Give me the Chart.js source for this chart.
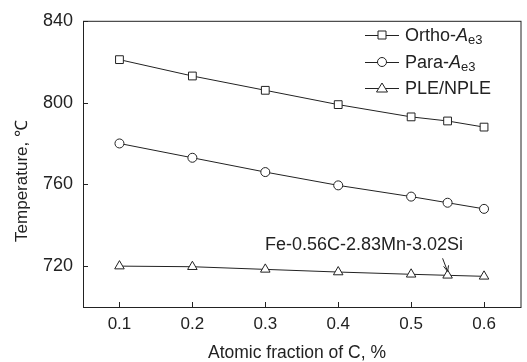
<!DOCTYPE html>
<html>
<head>
<meta charset="utf-8">
<script src="https://cdn.jsdelivr.net/npm/chart.js@4/dist/chart.umd.min.js"></script>
<style>
html,body{margin:0;padding:0;background:#fff;}
#wrap{width:527px;height:362px;position:relative;}
</style>
</head>
<body>
<div id="wrap"><canvas id="c" width="527" height="362"></canvas></div>
<script>
const carbonFraction = [0.1, 0.2, 0.3, 0.4, 0.5, 0.55, 0.6];
const orthoAe3 = [821, 813, 806, 799, 793, 791, 788];
const paraAe3 = [780, 773, 766, 759.5, 754, 751, 748];
const pleNple = [720, 719.7, 718.4, 717.1, 716, 715.5, 715];
const xTicks = [0.1, 0.2, 0.3, 0.4, 0.5, 0.6];
const yTicks = [720, 760, 800, 840];
const seriesNames = ['Ortho-', 'Para-', 'PLE/NPLE'];
const annotationText = 'Fe-0.56C-2.83Mn-3.02Si';
const annotationX = 0.55;

const FONT = '"Liberation Sans", Arial, sans-serif';
const INK = '#222';

function pts(arr){ return carbonFraction.map((x,i)=>({x:x,y:arr[i]})); }

function drawMarker(ctx, style, x, y){
  ctx.save();
  ctx.fillStyle = '#fff';
  ctx.strokeStyle = INK;
  ctx.lineWidth = 1;
  ctx.beginPath();
  if(style==='rect'){
    ctx.rect(x-4, y-4, 8, 8);
  } else if(style==='circle'){
    ctx.arc(x, y, 4.5, 0, Math.PI*2);
  } else {
    ctx.moveTo(x, y-5);
    ctx.lineTo(x+5.5, y+4);
    ctx.lineTo(x-5.5, y+4);
    ctx.closePath();
  }
  ctx.fill();
  ctx.stroke();
  ctx.restore();
}

const decor = {
  id:'decor',
  afterDraw(chart){
    const ctx = chart.ctx;
    const a = chart.chartArea;
    const xs = chart.scales.x, ys = chart.scales.y;
    ctx.save();
    ctx.strokeStyle = INK;
    ctx.lineWidth = 1;
    ctx.strokeRect(a.left+0.5, a.top+0.5, a.right-a.left, a.bottom-a.top);
    ctx.beginPath();
    xTicks.forEach(v=>{
      const px = Math.round(xs.getPixelForValue(v))+0.5;
      ctx.moveTo(px, a.bottom); ctx.lineTo(px, a.bottom-5);
    });
    yTicks.forEach(v=>{
      const py = Math.round(ys.getPixelForValue(v))+0.5;
      ctx.moveTo(a.left, py); ctx.lineTo(a.left+5, py);
    });
    ctx.stroke();

    ctx.fillStyle = INK;
    ctx.font = '17.5px ' + FONT;
    ctx.textAlign = 'center';
    ctx.textBaseline = 'middle';
    ctx.fillText('Atomic fraction of C, %', 297, 353);
    ctx.save();
    ctx.translate(22, 181);
    ctx.rotate(-Math.PI/2);
    ctx.font = '17px ' + FONT;
    ctx.fillText('Temperature, \u2103', 0, 0);
    ctx.restore();

    ctx.font = '18px ' + FONT;
    ctx.textAlign = 'center';
    ctx.fillText(annotationText, 364, 245);
    const ax = xs.getPixelForValue(annotationX);
    const ay = ys.getPixelForValue(pleNple[5]);
    ctx.beginPath();
    ctx.moveTo(ax-5, ay-17);
    ctx.lineTo(ax, ay-4);
    ctx.stroke();
    ctx.beginPath();
    ctx.moveTo(ax-4, ay-9); ctx.lineTo(ax, ay-4); ctx.lineTo(ax+1, ay-10);
    ctx.stroke();

    const rows = [35, 62, 88];
    const styles = ['rect','circle','triangle'];
    rows.forEach((ry, i)=>{
      ctx.beginPath();
      ctx.moveTo(365, ry+0.5); ctx.lineTo(399, ry+0.5);
      ctx.stroke();
      drawMarker(ctx, styles[i], 382, ry);
      ctx.textAlign = 'left';
      ctx.textBaseline = 'alphabetic';
      ctx.fillStyle = INK;
      let tx = 405;
      const base = ry + 6;
      ctx.font = '18px ' + FONT;
      ctx.fillText(seriesNames[i], tx, base);
      tx += ctx.measureText(seriesNames[i]).width;
      if(i < 2){
        ctx.font = 'italic 18px ' + FONT;
        ctx.fillText('A', tx, base);
        tx += ctx.measureText('A').width;
        ctx.font = '13px ' + FONT;
        ctx.fillText('e3', tx, base + 3);
      }
    });
    ctx.restore();
  }
};

const ds = (label, arr, style) => ({
  label, data: pts(arr),
  borderColor: INK, borderWidth: 1,
  pointStyle: style, pointRadius: style==='circle'?4.5:5.5,
  pointBackgroundColor: '#fff', pointBorderColor: INK, pointBorderWidth: 1,
  tension: 0, fill: false
});

new Chart(document.getElementById('c'), {
  type: 'line',
  data: { datasets: [
    ds('Ortho-Ae3', orthoAe3, 'rect'),
    ds('Para-Ae3', paraAe3, 'circle'),
    ds('PLE/NPLE', pleNple, 'triangle')
  ]},
  options: {
    responsive: false,
    animation: false,
    layout: { padding: { left: 0, right: 4, top: 17, bottom: 0 } },
    plugins: { legend: { display: false }, tooltip: { enabled: false } },
    scales: {
      x: {
        type: 'linear', min: 0.05, max: 0.65,
        afterBuildTicks(s){ s.ticks = xTicks.map(v=>({value:v})); },
        afterFit(s){ s.height = 55; },
        grid: { display: false, drawTicks: false },
        border: { display: false },
        ticks: { padding: 7, color: INK, font: { family: FONT, size: 17 },
          callback: v => v.toFixed(1), maxRotation: 0 }
      },
      y: {
        min: 700, max: 840,
        afterBuildTicks(s){ s.ticks = yTicks.map(v=>({value:v})); },
        afterFit(s){ s.width = 83; },
        grid: { display: false, drawTicks: false },
        border: { display: false },
        ticks: { padding: 10, color: INK, font: { family: FONT, size: 18 } }
      }
    }
  },
  plugins: [decor]
});
</script>
</body>
</html>
